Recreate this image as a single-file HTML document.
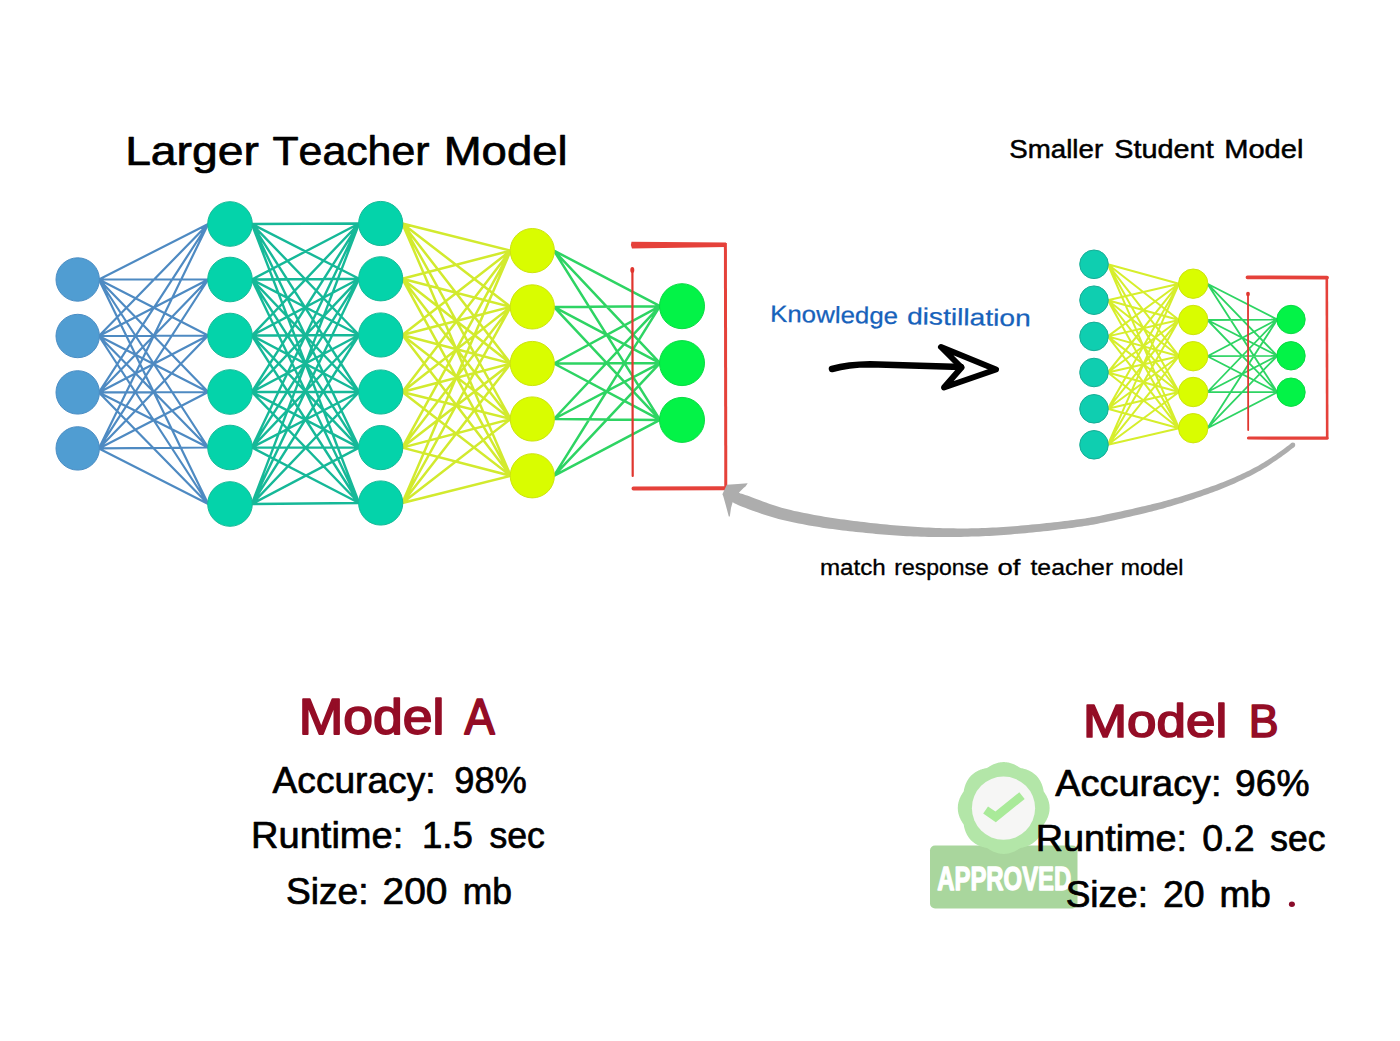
<!DOCTYPE html>
<html><head><meta charset="utf-8"><style>
html,body{margin:0;padding:0;background:#fff;}
text{font-family:"Liberation Sans",sans-serif;font-kerning:none;}
body{width:1400px;height:1041px;overflow:hidden;font-family:"Liberation Sans",sans-serif;}
svg{display:block;}
</style></head><body>
<svg width="1400" height="1041" viewBox="0 0 1400 1041">
<rect width="1400" height="1041" fill="#ffffff"/>
<path d="M98.9 279.5L208.2 224.0M98.9 279.5L208.2 279.5M98.9 279.5L208.2 335.5M98.9 279.5L208.2 392.0M98.9 279.5L208.2 447.5M98.9 279.5L208.2 504.0M98.9 336.0L208.2 224.0M98.9 336.0L208.2 279.5M98.9 336.0L208.2 335.5M98.9 336.0L208.2 392.0M98.9 336.0L208.2 447.5M98.9 336.0L208.2 504.0M98.9 392.4L208.2 224.0M98.9 392.4L208.2 279.5M98.9 392.4L208.2 335.5M98.9 392.4L208.2 392.0M98.9 392.4L208.2 447.5M98.9 392.4L208.2 504.0M98.9 448.4L208.2 224.0M98.9 448.4L208.2 279.5M98.9 448.4L208.2 335.5M98.9 448.4L208.2 392.0M98.9 448.4L208.2 447.5M98.9 448.4L208.2 504.0" stroke="#4e8ac2" stroke-width="2.2" fill="none"/>
<path d="M251.8 224.0L359.1 223.5M251.8 224.0L359.1 278.8M251.8 224.0L359.1 335.0M251.8 224.0L359.1 392.0M251.8 224.0L359.1 447.6M251.8 224.0L359.1 503.0M251.8 279.5L359.1 223.5M251.8 279.5L359.1 278.8M251.8 279.5L359.1 335.0M251.8 279.5L359.1 392.0M251.8 279.5L359.1 447.6M251.8 279.5L359.1 503.0M251.8 335.5L359.1 223.5M251.8 335.5L359.1 278.8M251.8 335.5L359.1 335.0M251.8 335.5L359.1 392.0M251.8 335.5L359.1 447.6M251.8 335.5L359.1 503.0M251.8 392.0L359.1 223.5M251.8 392.0L359.1 278.8M251.8 392.0L359.1 335.0M251.8 392.0L359.1 392.0M251.8 392.0L359.1 447.6M251.8 392.0L359.1 503.0M251.8 447.5L359.1 223.5M251.8 447.5L359.1 278.8M251.8 447.5L359.1 335.0M251.8 447.5L359.1 392.0M251.8 447.5L359.1 447.6M251.8 447.5L359.1 503.0M251.8 504.0L359.1 223.5M251.8 504.0L359.1 278.8M251.8 504.0L359.1 335.0M251.8 504.0L359.1 392.0M251.8 504.0L359.1 447.6M251.8 504.0L359.1 503.0" stroke="#16b898" stroke-width="2.4" fill="none"/>
<path d="M402.3 223.5L510.7 250.6M402.3 223.5L510.7 306.9M402.3 223.5L510.7 363.5M402.3 223.5L510.7 419.0M402.3 223.5L510.7 475.8M402.3 278.8L510.7 250.6M402.3 278.8L510.7 306.9M402.3 278.8L510.7 363.5M402.3 278.8L510.7 419.0M402.3 278.8L510.7 475.8M402.3 335.0L510.7 250.6M402.3 335.0L510.7 306.9M402.3 335.0L510.7 363.5M402.3 335.0L510.7 419.0M402.3 335.0L510.7 475.8M402.3 392.0L510.7 250.6M402.3 392.0L510.7 306.9M402.3 392.0L510.7 363.5M402.3 392.0L510.7 419.0M402.3 392.0L510.7 475.8M402.3 447.6L510.7 250.6M402.3 447.6L510.7 306.9M402.3 447.6L510.7 363.5M402.3 447.6L510.7 419.0M402.3 447.6L510.7 475.8M402.3 503.0L510.7 250.6M402.3 503.0L510.7 306.9M402.3 503.0L510.7 363.5M402.3 503.0L510.7 419.0M402.3 503.0L510.7 475.8" stroke="#d2ea2e" stroke-width="2.5" fill="none"/>
<path d="M553.9 250.6L660.0 306.2M553.9 250.6L660.0 363.1M553.9 250.6L660.0 419.9M553.9 306.9L660.0 306.2M553.9 306.9L660.0 363.1M553.9 306.9L660.0 419.9M553.9 363.5L660.0 306.2M553.9 363.5L660.0 363.1M553.9 363.5L660.0 419.9M553.9 419.0L660.0 306.2M553.9 419.0L660.0 363.1M553.9 419.0L660.0 419.9M553.9 475.8L660.0 306.2M553.9 475.8L660.0 363.1M553.9 475.8L660.0 419.9" stroke="#2ed463" stroke-width="2.5" fill="none"/>
<circle cx="77.7" cy="279.5" r="21.7" fill="#509dd2" stroke="#4a8dc4" stroke-width="1"/><circle cx="77.7" cy="336" r="21.7" fill="#509dd2" stroke="#4a8dc4" stroke-width="1"/><circle cx="77.7" cy="392.4" r="21.7" fill="#509dd2" stroke="#4a8dc4" stroke-width="1"/><circle cx="77.7" cy="448.4" r="21.7" fill="#509dd2" stroke="#4a8dc4" stroke-width="1"/>
<circle cx="230.0" cy="224" r="22.3" fill="#04d3aa" stroke="#16ba98" stroke-width="1"/><circle cx="230.0" cy="279.5" r="22.3" fill="#04d3aa" stroke="#16ba98" stroke-width="1"/><circle cx="230.0" cy="335.5" r="22.3" fill="#04d3aa" stroke="#16ba98" stroke-width="1"/><circle cx="230.0" cy="392" r="22.3" fill="#04d3aa" stroke="#16ba98" stroke-width="1"/><circle cx="230.0" cy="447.5" r="22.3" fill="#04d3aa" stroke="#16ba98" stroke-width="1"/><circle cx="230.0" cy="504" r="22.3" fill="#04d3aa" stroke="#16ba98" stroke-width="1"/>
<circle cx="380.7" cy="223.5" r="22.1" fill="#04d3aa" stroke="#16ba98" stroke-width="1"/><circle cx="380.7" cy="278.8" r="22.1" fill="#04d3aa" stroke="#16ba98" stroke-width="1"/><circle cx="380.7" cy="335" r="22.1" fill="#04d3aa" stroke="#16ba98" stroke-width="1"/><circle cx="380.7" cy="392" r="22.1" fill="#04d3aa" stroke="#16ba98" stroke-width="1"/><circle cx="380.7" cy="447.6" r="22.1" fill="#04d3aa" stroke="#16ba98" stroke-width="1"/><circle cx="380.7" cy="503" r="22.1" fill="#04d3aa" stroke="#16ba98" stroke-width="1"/>
<circle cx="532.3" cy="250.6" r="22.1" fill="#d9fd00" stroke="#cde40e" stroke-width="1"/><circle cx="532.3" cy="306.9" r="22.1" fill="#d9fd00" stroke="#cde40e" stroke-width="1"/><circle cx="532.3" cy="363.5" r="22.1" fill="#d9fd00" stroke="#cde40e" stroke-width="1"/><circle cx="532.3" cy="419" r="22.1" fill="#d9fd00" stroke="#cde40e" stroke-width="1"/><circle cx="532.3" cy="475.8" r="22.1" fill="#d9fd00" stroke="#cde40e" stroke-width="1"/>
<circle cx="682.0" cy="306.2" r="22.5" fill="#03f347" stroke="#0bd944" stroke-width="1"/><circle cx="682.0" cy="363.1" r="22.5" fill="#03f347" stroke="#0bd944" stroke-width="1"/><circle cx="682.0" cy="419.9" r="22.5" fill="#03f347" stroke="#0bd944" stroke-width="1"/>
<path d="M1107.8 264.3L1179.0 283.7M1107.8 264.3L1179.0 320.0M1107.8 264.3L1179.0 356.2M1107.8 264.3L1179.0 392.0M1107.8 264.3L1179.0 428.2M1107.8 300.2L1179.0 283.7M1107.8 300.2L1179.0 320.0M1107.8 300.2L1179.0 356.2M1107.8 300.2L1179.0 392.0M1107.8 300.2L1179.0 428.2M1107.8 336.4L1179.0 283.7M1107.8 336.4L1179.0 320.0M1107.8 336.4L1179.0 356.2M1107.8 336.4L1179.0 392.0M1107.8 336.4L1179.0 428.2M1107.8 372.5L1179.0 283.7M1107.8 372.5L1179.0 320.0M1107.8 372.5L1179.0 356.2M1107.8 372.5L1179.0 392.0M1107.8 372.5L1179.0 428.2M1107.8 408.8L1179.0 283.7M1107.8 408.8L1179.0 320.0M1107.8 408.8L1179.0 356.2M1107.8 408.8L1179.0 392.0M1107.8 408.8L1179.0 428.2M1107.8 444.8L1179.0 283.7M1107.8 444.8L1179.0 320.0M1107.8 444.8L1179.0 356.2M1107.8 444.8L1179.0 392.0M1107.8 444.8L1179.0 428.2" stroke="#d6ee2c" stroke-width="2.0" fill="none"/>
<path d="M1207.4 283.7L1277.3 319.5M1207.4 283.7L1277.3 355.8M1207.4 283.7L1277.3 392.2M1207.4 320.0L1277.3 319.5M1207.4 320.0L1277.3 355.8M1207.4 320.0L1277.3 392.2M1207.4 356.2L1277.3 319.5M1207.4 356.2L1277.3 355.8M1207.4 356.2L1277.3 392.2M1207.4 392.0L1277.3 319.5M1207.4 392.0L1277.3 355.8M1207.4 392.0L1277.3 392.2M1207.4 428.2L1277.3 319.5M1207.4 428.2L1277.3 355.8M1207.4 428.2L1277.3 392.2" stroke="#2ed463" stroke-width="1.8" fill="none"/>
<circle cx="1094.0" cy="264.3" r="14.3" fill="#0fceb0" stroke="#18ad96" stroke-width="1"/><circle cx="1094.0" cy="300.2" r="14.3" fill="#0fceb0" stroke="#18ad96" stroke-width="1"/><circle cx="1094.0" cy="336.4" r="14.3" fill="#0fceb0" stroke="#18ad96" stroke-width="1"/><circle cx="1094.0" cy="372.5" r="14.3" fill="#0fceb0" stroke="#18ad96" stroke-width="1"/><circle cx="1094.0" cy="408.8" r="14.3" fill="#0fceb0" stroke="#18ad96" stroke-width="1"/><circle cx="1094.0" cy="444.8" r="14.3" fill="#0fceb0" stroke="#18ad96" stroke-width="1"/>
<circle cx="1193.2" cy="283.7" r="14.7" fill="#d9fd00" stroke="#cde40e" stroke-width="1"/><circle cx="1193.2" cy="320" r="14.7" fill="#d9fd00" stroke="#cde40e" stroke-width="1"/><circle cx="1193.2" cy="356.2" r="14.7" fill="#d9fd00" stroke="#cde40e" stroke-width="1"/><circle cx="1193.2" cy="392" r="14.7" fill="#d9fd00" stroke="#cde40e" stroke-width="1"/><circle cx="1193.2" cy="428.2" r="14.7" fill="#d9fd00" stroke="#cde40e" stroke-width="1"/>
<circle cx="1291.0" cy="319.5" r="14.2" fill="#03f347" stroke="#0bd944" stroke-width="1"/><circle cx="1291.0" cy="355.8" r="14.2" fill="#03f347" stroke="#0bd944" stroke-width="1"/><circle cx="1291.0" cy="392.2" r="14.2" fill="#03f347" stroke="#0bd944" stroke-width="1"/>
<path d="M631.5 241.8L726 242.6L726 247L632 248.6Q630 245 631.5 241.8Z" fill="#e5413a"/>
<path d="M725.4 243L725.8 489" stroke="#e5413a" stroke-width="3" fill="none"/>
<path d="M633.5 488.4L725 488.2" stroke="#e5413a" stroke-width="4" fill="none" stroke-linecap="round"/>
<path d="M632.4 270L632.7 476" stroke="#e0362f" stroke-width="2.2" fill="none" stroke-linecap="round"/><ellipse cx="632.3" cy="270" rx="2" ry="3" fill="#e0362f"/>
<path d="M1247.5 277.3L1327 277.6" stroke="#e5413a" stroke-width="3.8" fill="none" stroke-linecap="round"/>
<path d="M1326.8 277L1327.2 439" stroke="#e5413a" stroke-width="2.6" fill="none"/>
<path d="M1248.5 438L1327 438.2" stroke="#e5413a" stroke-width="3.2" fill="none" stroke-linecap="round"/>
<path d="M1248 294L1248.2 430" stroke="#e0362f" stroke-width="1.8" fill="none" stroke-linecap="round"/><ellipse cx="1248" cy="294" rx="1.9" ry="2.3" fill="#e0362f"/>
<path d="M832 369Q848 364.5 870 364.3L961 367" stroke="#000" stroke-width="6.5" fill="none" stroke-linecap="round" stroke-linejoin="round"/>
<path d="M941 347L996 369.5L944 387.5L961.5 367.5Z" stroke="#000" stroke-width="6" fill="none" stroke-linejoin="round" stroke-linecap="round"/>
<path d="M729.1 500.2L729.6 500.5L730.2 500.8L730.9 501.3L731.7 501.7L732.6 502.2L733.6 502.8L734.8 503.4L736.1 504.1L737.5 504.8L739.1 505.5L740.9 506.3L742.9 507.0L745.1 507.8L747.4 508.7L750.0 509.7L752.8 510.7L755.8 511.7L758.8 512.8L762.0 513.9L765.3 515.0L768.6 516.0L771.9 517.0L775.2 518.0L778.5 518.9L781.7 519.7L785.0 520.5L788.4 521.3L791.7 522.0L795.1 522.8L798.6 523.4L802.0 524.1L805.4 524.8L808.9 525.4L812.3 526.0L815.7 526.6L819.1 527.1L822.4 527.7L825.8 528.2L829.2 528.7L832.6 529.1L835.9 529.6L839.3 530.0L842.7 530.4L846.0 530.8L849.4 531.2L852.7 531.5L856.1 531.9L859.4 532.3L862.7 532.6L866.1 533.0L869.4 533.3L872.7 533.6L876.0 534.0L879.3 534.3L882.7 534.6L886.0 534.8L889.4 535.1L892.8 535.3L896.2 535.6L899.7 535.8L903.2 536.0L906.7 536.2L910.3 536.3L913.8 536.5L917.4 536.6L921.1 536.7L924.7 536.8L928.3 536.9L932.0 536.9L935.6 537.0L939.2 537.0L942.8 537.0L946.4 537.1L950.0 537.0L953.6 537.0L957.2 537.0L960.8 536.9L964.4 536.8L967.9 536.7L971.5 536.6L975.1 536.5L978.7 536.4L982.3 536.2L985.9 536.0L989.5 535.9L993.1 535.7L996.7 535.4L1000.3 535.2L1003.9 535.0L1007.4 534.7L1011.0 534.4L1014.6 534.1L1018.2 533.8L1021.8 533.5L1025.4 533.2L1029.0 532.8L1032.6 532.5L1036.3 532.1L1040.0 531.7L1043.8 531.3L1047.6 530.9L1051.3 530.4L1055.0 530.0L1058.6 529.6L1062.2 529.1L1065.6 528.7L1068.8 528.3L1071.9 527.9L1074.7 527.5L1077.3 527.1L1079.7 526.8L1082.0 526.5L1084.2 526.1L1086.3 525.8L1088.4 525.4L1090.6 525.1L1092.8 524.7L1095.3 524.2L1097.9 523.7L1100.7 523.1L1103.9 522.5L1107.2 521.8L1110.8 521.0L1114.5 520.2L1118.4 519.3L1122.2 518.4L1126.1 517.6L1129.9 516.7L1133.6 515.8L1137.2 515.0L1140.6 514.2L1143.7 513.4L1146.6 512.7L1149.3 512.0L1151.9 511.4L1154.3 510.8L1156.6 510.2L1158.9 509.6L1161.1 509.0L1163.3 508.4L1165.5 507.7L1167.7 507.1L1170.0 506.5L1172.3 505.8L1174.7 505.1L1177.1 504.3L1179.5 503.6L1181.9 502.9L1184.3 502.1L1186.6 501.3L1189.0 500.6L1191.4 499.8L1193.8 499.0L1196.2 498.1L1198.6 497.3L1201.0 496.5L1203.4 495.6L1205.8 494.8L1208.1 493.9L1210.5 493.1L1212.9 492.2L1215.3 491.3L1217.7 490.4L1220.1 489.5L1222.5 488.5L1224.9 487.5L1227.3 486.5L1229.7 485.5L1232.1 484.5L1234.6 483.4L1237.0 482.3L1239.5 481.1L1242.0 479.9L1244.5 478.8L1246.9 477.6L1249.3 476.4L1251.7 475.2L1254.0 474.0L1256.2 472.8L1258.4 471.6L1260.5 470.5L1262.5 469.3L1264.5 468.1L1266.4 466.9L1268.3 465.7L1270.1 464.5L1271.9 463.3L1273.6 462.1L1275.3 461.0L1276.9 459.9L1278.5 458.8L1280.0 457.8L1281.5 456.7L1283.0 455.6L1284.5 454.6L1285.9 453.5L1287.3 452.4L1288.6 451.4L1289.8 450.5L1290.9 449.6L1292.0 448.8L1292.9 448.0L1293.7 447.4L1294.4 446.9L1291.4 443.1L1290.8 443.6L1289.9 444.2L1289.0 444.9L1288.0 445.8L1286.8 446.6L1285.6 447.6L1284.3 448.5L1283.0 449.6L1281.6 450.6L1280.1 451.6L1278.7 452.6L1277.2 453.6L1275.7 454.7L1274.1 455.7L1272.5 456.8L1270.8 457.9L1269.1 459.0L1267.3 460.2L1265.5 461.3L1263.7 462.5L1261.8 463.6L1259.8 464.7L1257.9 465.9L1255.8 467.0L1253.7 468.1L1251.5 469.2L1249.3 470.4L1246.9 471.5L1244.5 472.7L1242.1 473.8L1239.7 474.9L1237.2 476.1L1234.7 477.2L1232.3 478.2L1229.9 479.3L1227.5 480.3L1225.1 481.3L1222.8 482.2L1220.4 483.1L1218.0 484.0L1215.7 484.9L1213.3 485.8L1210.9 486.6L1208.5 487.5L1206.2 488.3L1203.8 489.1L1201.4 489.9L1199.0 490.7L1196.6 491.5L1194.3 492.3L1191.9 493.1L1189.5 493.8L1187.1 494.5L1184.7 495.3L1182.4 496.0L1180.0 496.7L1177.6 497.4L1175.2 498.1L1172.9 498.8L1170.5 499.4L1168.2 500.1L1165.9 500.7L1163.7 501.3L1161.5 501.9L1159.4 502.4L1157.2 503.0L1154.9 503.5L1152.6 504.1L1150.2 504.7L1147.7 505.3L1145.0 505.9L1142.1 506.6L1139.0 507.3L1135.6 508.1L1132.1 508.9L1128.3 509.7L1124.5 510.6L1120.7 511.4L1116.8 512.2L1113.0 513.1L1109.3 513.8L1105.7 514.6L1102.4 515.3L1099.3 515.9L1096.5 516.4L1093.9 516.9L1091.5 517.3L1089.3 517.7L1087.2 518.1L1085.1 518.4L1083.0 518.7L1080.9 519.0L1078.7 519.3L1076.3 519.6L1073.7 520.0L1070.9 520.3L1067.8 520.7L1064.6 521.1L1061.2 521.5L1057.7 521.9L1054.1 522.3L1050.5 522.7L1046.7 523.1L1043.0 523.5L1039.2 523.9L1035.5 524.3L1031.8 524.6L1028.2 525.0L1024.7 525.3L1021.1 525.6L1017.5 525.9L1014.0 526.2L1010.4 526.5L1006.9 526.7L1003.3 527.0L999.7 527.2L996.2 527.4L992.6 527.6L989.1 527.8L985.5 528.0L982.0 528.1L978.4 528.2L974.9 528.3L971.3 528.3L967.8 528.4L964.2 528.4L960.7 528.4L957.2 528.4L953.6 528.3L950.1 528.3L946.5 528.2L943.0 528.2L939.4 528.0L935.8 527.9L932.2 527.8L928.7 527.6L925.1 527.4L921.5 527.2L917.9 527.0L914.3 526.8L910.8 526.6L907.3 526.3L903.8 526.1L900.3 525.8L896.9 525.5L893.6 525.3L890.2 525.0L886.9 524.6L883.6 524.3L880.3 524.0L877.0 523.6L873.8 523.3L870.5 522.9L867.2 522.5L863.9 522.1L860.6 521.7L857.3 521.3L854.0 520.9L850.6 520.5L847.3 520.1L844.0 519.6L840.7 519.2L837.4 518.7L834.1 518.2L830.8 517.7L827.5 517.2L824.2 516.7L820.9 516.1L817.6 515.5L814.3 514.9L810.9 514.3L807.5 513.6L804.2 513.0L800.8 512.3L797.5 511.6L794.2 510.9L790.9 510.1L787.7 509.3L784.6 508.5L781.5 507.7L778.5 506.8L775.4 505.8L772.2 504.8L769.1 503.7L766.0 502.6L762.9 501.5L759.9 500.3L757.0 499.2L754.3 498.2L751.7 497.2L749.3 496.3L747.1 495.6L745.2 494.9L743.4 494.3L741.9 493.8L740.4 493.4L739.2 492.9L738.0 492.6L737.0 492.3L736.0 492.0L735.1 491.7L734.3 491.4L733.6 491.2L732.9 491.0Z" fill="#adadad"/>
<circle cx="1292.9" cy="445" r="2.4" fill="#adadad"/>
<path d="M722.4 494.2L726.8 484.8L738 484L747.7 483.2L745.5 486.5L743.8 487.8L739 492.5L741 496L738 502L732.8 501.5L731 508L729.8 516.5L728.8 516.4L726 506L723.2 496Z" fill="#adadad"/>
<text x="125.15" y="164.5" font-size="41.5" textLength="133.76" lengthAdjust="spacingAndGlyphs" fill="#000" stroke="#000" stroke-width="0.7" stroke-linejoin="round">Larger</text><text x="272.49" y="164.5" font-size="41.5" textLength="156.97" lengthAdjust="spacingAndGlyphs" fill="#000" stroke="#000" stroke-width="0.7" stroke-linejoin="round">Teacher</text><text x="443.72" y="164.5" font-size="41.5" textLength="123.87" lengthAdjust="spacingAndGlyphs" fill="#000" stroke="#000" stroke-width="0.7" stroke-linejoin="round">Model</text>
<text x="1009.29" y="157.7" font-size="26.5" textLength="93.82" lengthAdjust="spacingAndGlyphs" fill="#000" stroke="#000" stroke-width="0.5" stroke-linejoin="round">Smaller</text><text x="1114.34" y="157.7" font-size="26.5" textLength="99.32" lengthAdjust="spacingAndGlyphs" fill="#000" stroke="#000" stroke-width="0.5" stroke-linejoin="round">Student</text><text x="1224.16" y="157.7" font-size="26.5" textLength="79.23" lengthAdjust="spacingAndGlyphs" fill="#000" stroke="#000" stroke-width="0.5" stroke-linejoin="round">Model</text>
<g transform="rotate(1 772 321)"><text x="770.00" y="321.8" font-size="23.5" textLength="128.02" lengthAdjust="spacingAndGlyphs" fill="#1762bb" stroke="#1762bb" stroke-width="0.25" stroke-linejoin="round">Knowledge</text><text x="906.94" y="321.8" font-size="23.5" textLength="123.76" lengthAdjust="spacingAndGlyphs" fill="#1762bb" stroke="#1762bb" stroke-width="0.25" stroke-linejoin="round">distillation</text></g>
<text x="819.95" y="575" font-size="21.3" textLength="65.77" lengthAdjust="spacingAndGlyphs" fill="#000" stroke="#000" stroke-width="0.3" stroke-linejoin="round">match</text><text x="894.33" y="575" font-size="21.3" textLength="94.44" lengthAdjust="spacingAndGlyphs" fill="#000" stroke="#000" stroke-width="0.3" stroke-linejoin="round">response</text><text x="997.60" y="575" font-size="21.3" textLength="22.91" lengthAdjust="spacingAndGlyphs" fill="#000" stroke="#000" stroke-width="0.3" stroke-linejoin="round">of</text><text x="1030.47" y="575" font-size="21.3" textLength="82.69" lengthAdjust="spacingAndGlyphs" fill="#000" stroke="#000" stroke-width="0.3" stroke-linejoin="round">teacher</text><text x="1120.72" y="575" font-size="21.3" textLength="62.77" lengthAdjust="spacingAndGlyphs" fill="#000" stroke="#000" stroke-width="0.3" stroke-linejoin="round">model</text>
<text x="298.69" y="734.1" font-size="49.2" textLength="145.72" lengthAdjust="spacingAndGlyphs" fill="#940d26" stroke="#940d26" stroke-width="1.75" stroke-linejoin="round">Model</text><text x="464.39" y="734.1" font-size="49.2" textLength="30.23" lengthAdjust="spacingAndGlyphs" fill="#940d26" stroke="#940d26" stroke-width="1.75" stroke-linejoin="round">A</text>
<text x="272.58" y="793" font-size="37" textLength="162.96" lengthAdjust="spacingAndGlyphs" fill="#000" stroke="#000" stroke-width="0.7" stroke-linejoin="round">Accuracy:</text><text x="454.25" y="793" font-size="37" textLength="72.59" lengthAdjust="spacingAndGlyphs" fill="#000" stroke="#000" stroke-width="0.7" stroke-linejoin="round">98%</text>
<text x="251.03" y="848.3" font-size="37" textLength="152.30" lengthAdjust="spacingAndGlyphs" fill="#000" stroke="#000" stroke-width="0.7" stroke-linejoin="round">Runtime:</text><text x="421.96" y="848.3" font-size="37" textLength="50.93" lengthAdjust="spacingAndGlyphs" fill="#000" stroke="#000" stroke-width="0.7" stroke-linejoin="round">1.5</text><text x="489.46" y="848.3" font-size="37" textLength="55.43" lengthAdjust="spacingAndGlyphs" fill="#000" stroke="#000" stroke-width="0.7" stroke-linejoin="round">sec</text>
<text x="285.96" y="903.6" font-size="37" textLength="82.68" lengthAdjust="spacingAndGlyphs" fill="#000" stroke="#000" stroke-width="0.7" stroke-linejoin="round">Size:</text><text x="382.49" y="903.6" font-size="37" textLength="64.98" lengthAdjust="spacingAndGlyphs" fill="#000" stroke="#000" stroke-width="0.7" stroke-linejoin="round">200</text><text x="462.80" y="903.6" font-size="37" textLength="49.24" lengthAdjust="spacingAndGlyphs" fill="#000" stroke="#000" stroke-width="0.7" stroke-linejoin="round">mb</text>
<rect x="930" y="845.5" width="147.5" height="63" rx="5" fill="#a9d69d"/>
<path d="M1049.6 808.0L1049.6 808.8L1049.5 809.6L1049.5 810.4L1049.4 811.2L1049.3 812.0L1049.1 812.8L1049.0 813.6L1048.8 814.3L1048.5 815.1L1048.3 815.9L1048.0 816.6L1047.8 817.4L1047.4 818.1L1047.1 818.8L1046.8 819.5L1046.4 820.2L1046.0 820.9L1045.6 821.6L1045.2 822.3L1044.8 823.0L1044.4 823.6L1043.9 824.3L1043.6 825.0L1043.5 825.7L1043.4 826.5L1043.2 827.3L1043.0 828.0L1042.8 828.8L1042.6 829.5L1042.3 830.3L1042.1 831.0L1041.8 831.8L1041.5 832.5L1041.1 833.3L1040.8 834.0L1040.4 834.7L1040.0 835.4L1039.6 836.1L1039.2 836.7L1038.7 837.4L1038.3 838.0L1037.8 838.7L1037.3 839.3L1036.7 839.9L1036.2 840.5L1035.6 841.0L1035.0 841.6L1034.4 842.1L1033.7 842.6L1033.1 843.0L1032.4 843.5L1031.8 843.9L1031.1 844.3L1030.4 844.7L1029.7 845.1L1029.0 845.4L1028.2 845.8L1027.5 846.1L1026.7 846.4L1026.0 846.6L1025.2 846.9L1024.5 847.1L1023.7 847.3L1023.0 847.5L1022.2 847.7L1021.4 847.8L1020.7 847.9L1020.0 848.2L1019.3 848.7L1018.7 849.1L1018.0 849.5L1017.3 849.9L1016.6 850.3L1015.9 850.7L1015.2 851.1L1014.5 851.4L1013.8 851.7L1013.1 852.1L1012.3 852.3L1011.6 852.6L1010.8 852.8L1010.0 853.1L1009.3 853.3L1008.5 853.4L1007.7 853.6L1006.9 853.7L1006.1 853.8L1005.3 853.8L1004.5 853.9L1003.7 853.9L1002.9 853.9L1002.1 853.8L1001.3 853.8L1000.5 853.7L999.7 853.6L998.9 853.4L998.1 853.3L997.4 853.1L996.6 852.8L995.8 852.6L995.1 852.3L994.3 852.1L993.6 851.7L992.9 851.4L992.2 851.1L991.5 850.7L990.8 850.3L990.1 849.9L989.4 849.5L988.7 849.1L988.1 848.7L987.4 848.2L986.7 847.9L986.0 847.8L985.2 847.7L984.4 847.5L983.7 847.3L982.9 847.1L982.2 846.9L981.4 846.6L980.7 846.4L979.9 846.1L979.2 845.8L978.4 845.4L977.7 845.1L977.0 844.7L976.3 844.3L975.6 843.9L975.0 843.5L974.3 843.0L973.7 842.6L973.0 842.1L972.4 841.6L971.8 841.0L971.2 840.5L970.7 839.9L970.1 839.3L969.6 838.7L969.1 838.0L968.7 837.4L968.2 836.7L967.8 836.1L967.4 835.4L967.0 834.7L966.6 834.0L966.3 833.3L965.9 832.5L965.6 831.8L965.3 831.0L965.1 830.3L964.8 829.5L964.6 828.8L964.4 828.0L964.2 827.3L964.0 826.5L963.9 825.7L963.8 825.0L963.5 824.3L963.0 823.6L962.6 823.0L962.2 822.3L961.8 821.6L961.4 820.9L961.0 820.2L960.6 819.5L960.3 818.8L960.0 818.1L959.6 817.4L959.4 816.6L959.1 815.9L958.9 815.1L958.6 814.3L958.4 813.6L958.3 812.8L958.1 812.0L958.0 811.2L957.9 810.4L957.9 809.6L957.8 808.8L957.8 808.0L957.8 807.2L957.9 806.4L957.9 805.6L958.0 804.8L958.1 804.0L958.3 803.2L958.4 802.4L958.6 801.7L958.9 800.9L959.1 800.1L959.4 799.4L959.6 798.6L960.0 797.9L960.3 797.2L960.6 796.5L961.0 795.8L961.4 795.1L961.8 794.4L962.2 793.7L962.6 793.0L963.0 792.4L963.5 791.7L963.8 791.0L963.9 790.3L964.0 789.5L964.2 788.7L964.4 788.0L964.6 787.2L964.8 786.5L965.1 785.7L965.3 785.0L965.6 784.2L965.9 783.5L966.3 782.7L966.6 782.0L967.0 781.3L967.4 780.6L967.8 779.9L968.2 779.3L968.7 778.6L969.1 778.0L969.6 777.3L970.1 776.7L970.7 776.1L971.2 775.5L971.8 775.0L972.4 774.4L973.0 773.9L973.7 773.4L974.3 773.0L975.0 772.5L975.6 772.1L976.3 771.7L977.0 771.3L977.7 770.9L978.4 770.6L979.2 770.2L979.9 769.9L980.7 769.6L981.4 769.4L982.2 769.1L982.9 768.9L983.7 768.7L984.4 768.5L985.2 768.3L986.0 768.2L986.7 768.1L987.4 767.8L988.1 767.3L988.7 766.9L989.4 766.5L990.1 766.1L990.8 765.7L991.5 765.3L992.2 764.9L992.9 764.6L993.6 764.3L994.3 763.9L995.1 763.7L995.8 763.4L996.6 763.2L997.4 762.9L998.1 762.7L998.9 762.6L999.7 762.4L1000.5 762.3L1001.3 762.2L1002.1 762.2L1002.9 762.1L1003.7 762.1L1004.5 762.1L1005.3 762.2L1006.1 762.2L1006.9 762.3L1007.7 762.4L1008.5 762.6L1009.3 762.7L1010.0 762.9L1010.8 763.2L1011.6 763.4L1012.3 763.7L1013.1 763.9L1013.8 764.3L1014.5 764.6L1015.2 764.9L1015.9 765.3L1016.6 765.7L1017.3 766.1L1018.0 766.5L1018.7 766.9L1019.3 767.3L1020.0 767.8L1020.7 768.1L1021.4 768.2L1022.2 768.3L1023.0 768.5L1023.7 768.7L1024.5 768.9L1025.2 769.1L1026.0 769.4L1026.7 769.6L1027.5 769.9L1028.2 770.2L1029.0 770.6L1029.7 770.9L1030.4 771.3L1031.1 771.7L1031.8 772.1L1032.4 772.5L1033.1 773.0L1033.7 773.4L1034.4 773.9L1035.0 774.4L1035.6 775.0L1036.2 775.5L1036.7 776.1L1037.3 776.7L1037.8 777.3L1038.3 778.0L1038.7 778.6L1039.2 779.3L1039.6 779.9L1040.0 780.6L1040.4 781.3L1040.8 782.0L1041.1 782.7L1041.5 783.5L1041.8 784.2L1042.1 785.0L1042.3 785.7L1042.6 786.5L1042.8 787.2L1043.0 788.0L1043.2 788.7L1043.4 789.5L1043.5 790.3L1043.6 791.0L1043.9 791.7L1044.4 792.4L1044.8 793.0L1045.2 793.7L1045.6 794.4L1046.0 795.1L1046.4 795.8L1046.8 796.5L1047.1 797.2L1047.4 797.9L1047.8 798.6L1048.0 799.4L1048.3 800.1L1048.5 800.9L1048.8 801.7L1049.0 802.4L1049.1 803.2L1049.3 804.0L1049.4 804.8L1049.5 805.6L1049.5 806.4L1049.6 807.2Z" fill="#b3e6a8"/>
<circle cx="1003.5" cy="808.2" r="31.6" fill="#f6f6f5"/>
<path d="M985.6 810L995.6 816.8L1022 795.6" stroke="#a9ea99" stroke-width="8.6" fill="none" stroke-linecap="butt" stroke-linejoin="miter"/>
<text x="937.20" y="889.6" font-size="34" textLength="134.10" lengthAdjust="spacingAndGlyphs" fill="#ffffff" font-weight="bold" stroke="#ffffff" stroke-width="1.4" stroke-linejoin="round">APPROVED</text>
<text x="1083.01" y="736.8" font-size="46.8" textLength="144.18" lengthAdjust="spacingAndGlyphs" fill="#940d26" stroke="#940d26" stroke-width="1.7" stroke-linejoin="round">Model</text><text x="1248.68" y="736.8" font-size="46.8" textLength="29.83" lengthAdjust="spacingAndGlyphs" fill="#940d26" stroke="#940d26" stroke-width="1.7" stroke-linejoin="round">B</text>
<text x="1055.28" y="795.5" font-size="36" textLength="166.33" lengthAdjust="spacingAndGlyphs" fill="#000" stroke="#000" stroke-width="0.7" stroke-linejoin="round">Accuracy:</text><text x="1235.11" y="795.5" font-size="36" textLength="74.37" lengthAdjust="spacingAndGlyphs" fill="#000" stroke="#000" stroke-width="0.7" stroke-linejoin="round">96%</text>
<text x="1035.75" y="851" font-size="36" textLength="151.36" lengthAdjust="spacingAndGlyphs" fill="#000" stroke="#000" stroke-width="0.7" stroke-linejoin="round">Runtime:</text><text x="1202.38" y="851" font-size="36" textLength="52.15" lengthAdjust="spacingAndGlyphs" fill="#000" stroke="#000" stroke-width="0.7" stroke-linejoin="round">0.2</text><text x="1270.36" y="851" font-size="36" textLength="55.22" lengthAdjust="spacingAndGlyphs" fill="#000" stroke="#000" stroke-width="0.7" stroke-linejoin="round">sec</text>
<text x="1065.67" y="906.5" font-size="36" textLength="82.37" lengthAdjust="spacingAndGlyphs" fill="#000" stroke="#000" stroke-width="0.7" stroke-linejoin="round">Size:</text><text x="1162.97" y="906.5" font-size="36" textLength="41.65" lengthAdjust="spacingAndGlyphs" fill="#000" stroke="#000" stroke-width="0.7" stroke-linejoin="round">20</text><text x="1219.40" y="906.5" font-size="36" textLength="51.30" lengthAdjust="spacingAndGlyphs" fill="#000" stroke="#000" stroke-width="0.7" stroke-linejoin="round">mb</text>
<ellipse cx="1291.9" cy="904.3" rx="3" ry="2.7" fill="#8a0c2a"/>
</svg>
</body></html>
